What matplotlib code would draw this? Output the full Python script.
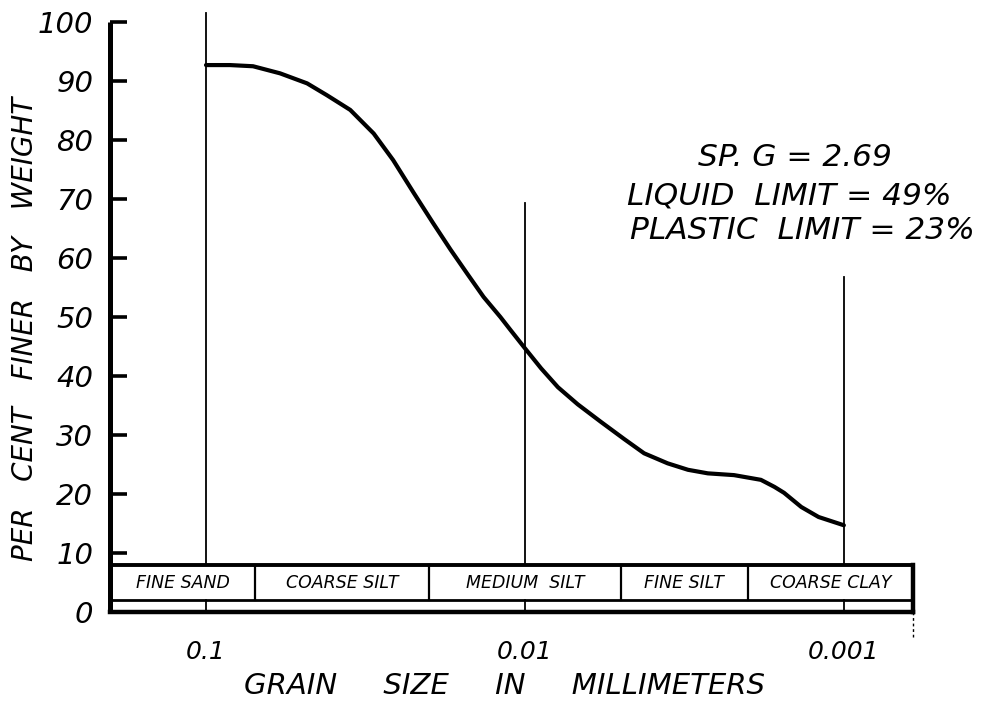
import matplotlib
matplotlib.use("Agg")
import matplotlib.pyplot as plt
from matplotlib.ticker import FixedLocator, NullLocator

# ---------------- data ----------------
grain_mm = [0.1, 0.0841, 0.0712, 0.0586, 0.0482, 0.0418, 0.0353, 0.0298, 0.0259,
            0.0223, 0.0194, 0.0171, 0.01515, 0.01348, 0.01194, 0.0111, 0.0100,
            0.0089, 0.00788, 0.00683, 0.00577, 0.00488, 0.00423, 0.00357, 0.00308,
            0.00267, 0.00221, 0.00182, 0.00165, 0.00154, 0.00136, 0.0012, 0.001]
pct_finer = [92.7, 92.7, 92.5, 91.3, 89.6, 87.6, 85.1, 81.1, 76.6,
             71.0, 65.9, 61.4, 57.3, 53.4, 50.0, 47.8, 44.7,
             41.3, 38.1, 35.2, 32.2, 29.3, 26.9, 25.2, 24.1,
             23.5, 23.2, 22.4, 21.2, 20.2, 17.8, 16.1, 14.7]

y_ticks = [0, 10, 20, 30, 40, 50, 60, 70, 80, 90, 100]
y_tick_labels = ["0", "10", "20", "30", "40", "50", "60", "70", "80", "90", "100"]
x_ticks = [0.1, 0.01, 0.001]
x_tick_labels = ["0.1", "0.01", "0.001"]

# soil class band
band_edges = [0.2, 0.07, 0.02, 0.005, 0.002, 0.000607]
band_labels = ["FINE SAND", "COARSE SILT", "MEDIUM  SILT", "FINE SILT", "COARSE CLAY"]
band_bottom, band_top = 2.0, 8.0

# reference vertical lines (x, top %)
ref_lines_x = [0.1, 0.01, 0.001]
ref_lines_top = [101.5, 69.3, 56.8]

notes = ["SP. G = 2.69", "LIQUID  LIMIT = 49%", "PLASTIC  LIMIT = 23%"]

# ---------------- figure ----------------
W, H = 998, 709
fig = plt.figure(figsize=(W / 100, H / 100), dpi=100)
fig.patch.set_facecolor("white")

x0, x1, y0, y1 = 110, 913, 612, 22   # pixel geometry
ax = fig.add_axes([x0 / W, (H - y0) / H, (x1 - x0) / W, (y0 - y1) / H])
ax.set_xscale("log")
ax.set_xlim(band_edges[0], band_edges[-1])
ax.set_ylim(0, 100)

font = dict(family="DejaVu Sans", style="italic", color="black")

for side in ("top", "right"):
    ax.spines[side].set_visible(False)
ax.spines["left"].set_linewidth(3.6)
ax.spines["bottom"].set_linewidth(3.2)
ax.spines["left"].set_capstyle("butt")

ax.yaxis.set_major_locator(FixedLocator(y_ticks))
ax.set_yticklabels(y_tick_labels, **font, fontsize=21)
ax.tick_params(axis="y", direction="in", length=12, width=2.6, pad=12)

ax.xaxis.set_major_locator(FixedLocator(x_ticks))
ax.xaxis.set_minor_locator(NullLocator())
ax.set_xticklabels(x_tick_labels, **font, fontsize=18)
ax.tick_params(axis="x", length=0, pad=20)

# curve
ax.plot(grain_mm, pct_finer, color="black", lw=3.0, solid_capstyle="round",
        solid_joinstyle="round", zorder=5)

# vertical reference lines
for xv, top in zip(ref_lines_x, ref_lines_top):
    ax.plot([xv, xv], [band_top, top], color="black", lw=1.3, clip_on=False)
    ax.plot([xv, xv], [0, band_bottom], color="black", lw=1.3, clip_on=False)

# band of soil classes
xl, xr = band_edges[0], band_edges[-1]
ax.plot([xl, xr], [band_top, band_top], color="black", lw=2.8, clip_on=False,
        solid_capstyle="butt")
ax.plot([xl, xr], [band_bottom, band_bottom], color="black", lw=2.0, clip_on=False,
        solid_capstyle="butt")
ax.plot([xr, xr], [0, band_top], color="black", lw=3.2, clip_on=False,
        solid_capstyle="projecting")
for xe in band_edges[1:-1]:
    ax.plot([xe, xe], [band_bottom, band_top], color="black", lw=1.6)
for i, lab in enumerate(band_labels):
    a, b = band_edges[i], band_edges[i + 1]
    xc = (a * b) ** 0.5
    ax.text(xc, (band_bottom + band_top) / 2, lab, ha="center", va="center",
            fontsize=12.5, **font)

# small dotted tail at right end below axis
ax.plot([xr, xr], [0, -4.2], color="black", lw=1.0, ls=(0, (2, 2)), clip_on=False)

# axis titles
ax.set_ylabel("PER   CENT   FINER   BY   WEIGHT", fontsize=20, **font)
ax.yaxis.set_label_coords((25 - x0) / (x1 - x0), (y0 - 329) / (y0 - y1))
ax.set_xlabel("GRAIN     SIZE     IN     MILLIMETERS", fontsize=21, **font)
ax.xaxis.set_label_coords((505 - x0) / (x1 - x0), (y0 - 686) / (y0 - y1))
ax.xaxis.label.set_va("center")
ax.yaxis.label.set_va("center")

# notes
note_pos = [(795, 158), (789, 196), (802, 230)]
for (px, py), txt in zip(note_pos, notes):
    fig.text(px / W, (H - py) / H, txt, ha="center", va="center", fontsize=22.5, **font)

fig.savefig("out.png", dpi=100, facecolor="white")
